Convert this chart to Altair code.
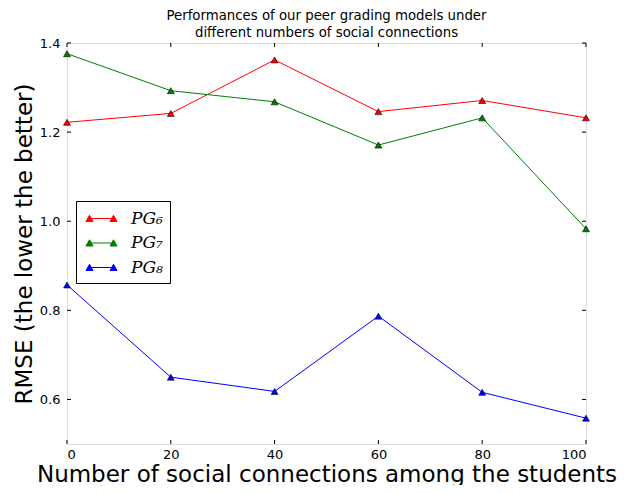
import altair as alt
import pandas as pd

x_vals = [0, 20, 40, 60, 80, 100]
pg6 = [1.222, 1.242, 1.362, 1.246, 1.271, 1.232]
pg7 = [1.376, 1.293, 1.268, 1.171, 1.232, 0.983]
pg8 = [0.857, 0.650, 0.618, 0.787, 0.616, 0.558]
series_names = ["PG₆", "PG₇", "PG₈"]
series_colors = ["#ff0000", "#008000", "#0000ff"]
x_ticks = [0, 20, 40, 60, 80, 100]
y_ticks = [0.6, 0.8, 1.0, 1.2, 1.4]

rows = []
for name, vals in zip(series_names, [pg6, pg7, pg8]):
    for xv, yv in zip(x_vals, vals):
        rows.append({"x": xv, "y": yv, "series": name})
df = pd.DataFrame(rows)

W, H = 519, 401
xs = alt.Scale(domain=[0, 100], nice=False, zero=False)
ys = alt.Scale(domain=[0.5, 1.4], nice=False, zero=False)

sym_path = ("M-1.2,0L1.2,0"
            "M-1.55,0.3L-1.2,-0.32L-0.85,0.3Z"
            "M0.85,0.3L1.2,-0.32L1.55,0.3Z")

legend = alt.Legend(
    title=None, orient="none", legendX=9, legendY=158,
    symbolType=sym_path, symbolSize=400, symbolStrokeWidth=1,
    symbolOffset=8, labelOffset=19,
    labelFont="DejaVu Serif", labelFontStyle="italic", labelFontSize=17,
    labelColor="black", rowPadding=5.5,
    strokeColor="black", fillColor="white", padding=7, cornerRadius=0,
)

xaxis = alt.Axis(values=x_ticks, ticks=False, grid=False, domain=False,
                 labelFont="DejaVu Sans", labelFontSize=13, labelColor="black",
                 labelPadding=4, title="Number of social connections among the students",
                 titleFont="DejaVu Sans", titleFontSize=23, titleFontWeight="normal",
                 titleColor="black", titlePadding=2)
yaxis = alt.Axis(values=y_ticks, ticks=False, grid=False, domain=False, format=".1f",
                 labelFont="DejaVu Sans", labelFontSize=13, labelColor="black",
                 labelPadding=7, title="RMSE (the lower the better)",
                 titleFont="DejaVu Sans", titleFontSize=23, titleFontWeight="normal",
                 titleColor="black", titlePadding=3)

lines = alt.Chart(df).mark_line(strokeWidth=1).encode(
    x=alt.X("x:Q", scale=xs, axis=xaxis),
    y=alt.Y("y:Q", scale=ys, axis=yaxis),
    stroke=alt.Stroke("series:N", scale=alt.Scale(domain=series_names, range=series_colors), legend=legend),
    detail="series:N",
)
points = alt.Chart(df).mark_point(shape="triangle-up", filled=True, size=48,
                                  stroke="black", strokeWidth=0.6, opacity=1).encode(
    x=alt.X("x:Q", scale=xs),
    y=alt.Y("y:Q", scale=ys),
    fill=alt.Fill("series:N", scale=alt.Scale(domain=series_names, range=series_colors), legend=legend),
)

xt = pd.DataFrame({"t": x_ticks})
yt = pd.DataFrame({"t": y_ticks})
tick_bottom = alt.Chart(xt).mark_rule(color="black", strokeWidth=1).encode(
    x=alt.X("t:Q", scale=xs), y=alt.value(H), y2=alt.value(H - 4))
tick_top = alt.Chart(xt).mark_rule(color="black", strokeWidth=1).encode(
    x=alt.X("t:Q", scale=xs), y=alt.value(0), y2=alt.value(4))
tick_left = alt.Chart(yt).mark_rule(color="black", strokeWidth=1).encode(
    y=alt.Y("t:Q", scale=ys), x=alt.value(0), x2=alt.value(4))
tick_right = alt.Chart(yt).mark_rule(color="black", strokeWidth=1).encode(
    y=alt.Y("t:Q", scale=ys), x=alt.value(W), x2=alt.value(W - 4))

chart = alt.layer(lines, points, tick_bottom, tick_top, tick_left, tick_right).properties(
    width=W, height=H,
    title=alt.Title(["Performances of our peer grading models under",
                     "different numbers of social connections"],
                    font="DejaVu Sans", fontSize=13.3, fontWeight="normal",
                    color="black", anchor="middle", lineHeight=17, offset=-2, frame="group"),
    autosize=alt.AutoSizeParams(type="none"),
    padding={"left": 59, "top": 35, "right": 40, "bottom": 41},
).configure_view(stroke="black", strokeWidth=1).configure(background="white")

chart.save("out.html", embed_options={"renderer": "svg", "actions": False})
